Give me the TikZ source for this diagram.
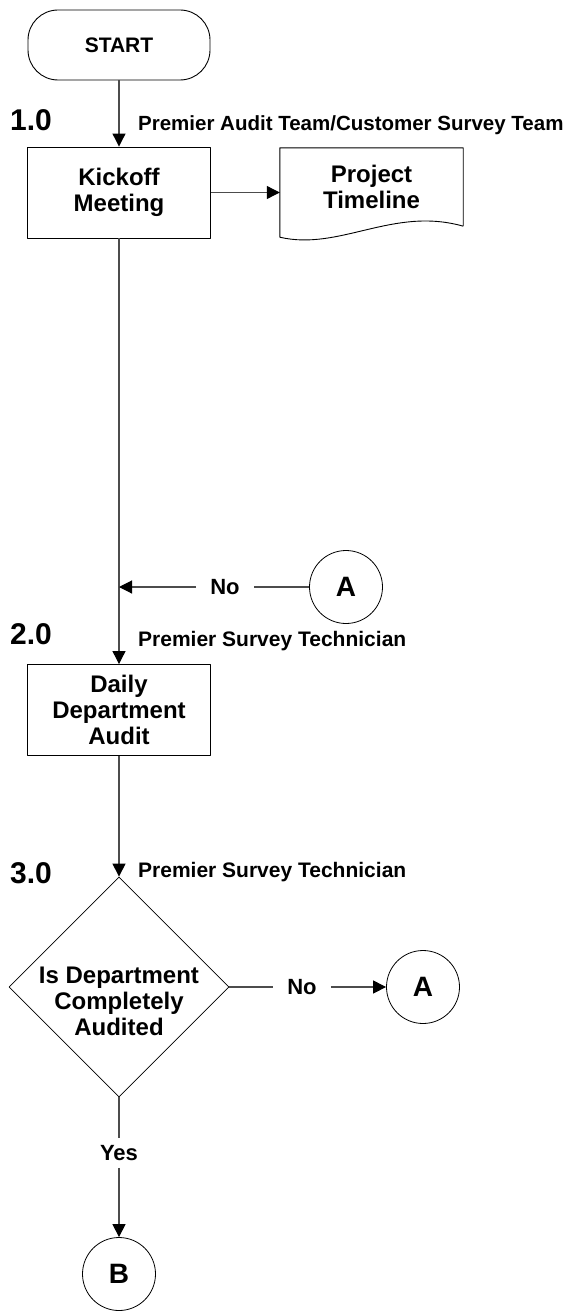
\documentclass[tikz,border=0pt]{standalone}
\usepackage{fontspec}
\setmainfont{Liberation Sans}
\usetikzlibrary{shapes.geometric,arrows.meta}
\tikzset{
	termbox/.style={draw,line width=0.9pt,rounded corners=30pt,minimum width=182pt,minimum height=70pt,inner sep=0pt,font=\fontsize{21}{23}\selectfont\bfseries},
	procbox/.style={draw,line width=0.9pt,minimum width=183pt,minimum height=91pt,inner sep=0pt,align=center,font=\fontsize{24}{26}\selectfont\bfseries},
	docbox/.style={minimum width=183pt,minimum height=78pt,inner sep=0pt,align=center,font=\fontsize{24}{26}\selectfont\bfseries},
	decbox/.style={draw,diamond,line width=0.8pt,minimum width=220pt,minimum height=220pt,inner sep=0pt},
	dectext/.style={align=center,font=\fontsize{24}{26}\selectfont\bfseries},
	linkpt/.style={draw,circle,line width=0.8pt,minimum size=73pt,inner sep=0pt,font=\fontsize{28}{28}\selectfont\bfseries},
	stepno/.style={anchor=west,inner sep=0pt,font=\fontsize{30}{30}\selectfont\bfseries},
	who/.style={anchor=west,inner sep=0pt,font=\fontsize{21}{21}\selectfont\bfseries},
	answer/.style={inner xsep=14pt,inner ysep=7pt,font=\fontsize{22}{22}\selectfont\bfseries},
	flow/.style={draw=black!70,line width=1.1pt}
}
\begin{document}
\begin{tikzpicture}[x=1pt,y=1pt,line join=round,>={Triangle[length=13pt,width=13pt,color=black]}]
	\useasboundingbox (0,0) rectangle (572,-1311);
	\def\mx{119}
	% step 1.0
	\node[termbox] (start) at (\mx,-45) {START};
	\node[stepno] (s1) at (10,-120) {1.0};
	\node[who,font=\fontsize{20.5}{21}\selectfont\bfseries] (w1) at (138,-125) {Premier Audit Team/Customer Survey Team};
	\node[procbox] (kickoff) at (\mx,-192.5) {Kickoff\\Meeting};
	\node[docbox] (timeline) at (371.5,-187) {Project\\Timeline};
	\draw[line width=0.9pt] (timeline.south east) -- (timeline.north east) -- (timeline.north west) -- ([yshift=-11pt]timeline.south west)
		.. controls +(60,-14) and +(-70,20) .. (timeline.south east);
	% step 2.0
	\node[linkpt] (a1) at (346,-587) {A};
	\node[answer] (no1) at (225,-587) {No};
	\node[stepno] (s2) at (10,-634) {2.0};
	\node[who] (w2) at (138,-641) {Premier Survey Technician};
	\node[procbox] (daily) at (\mx,-710) {Daily\\Department\\Audit};
	% step 3.0
	\node[stepno] (s3) at (10,-873) {3.0};
	\node[who] (w3) at (138,-872) {Premier Survey Technician};
	\node[decbox] (dec) at (\mx,-987) {};
	\node[dectext] (dect) at (\mx,-1001) {Is Department\\Completely\\Audited};
	\node[answer] (no2) at (302,-987) {No};
	\node[linkpt] (a2) at (423,-987) {A};
	\node[answer] (yes) at (\mx,-1153) {Yes};
	\node[linkpt] (b) at (\mx,-1274) {B};
	% connectors
	\draw[flow,->] (start) -- (kickoff);
	\draw[flow,->] (kickoff.east) -- (kickoff.east -| timeline.west);
	\draw[flow,->] (kickoff) -- (daily);
	\draw[flow] (a1) -- (no1);
	\draw[flow,->] (no1) -- (no1 -| daily.north);
	\draw[flow,->] (daily) -- (dec);
	\draw[flow] (dec) -- (no2);
	\draw[flow,->] (no2) -- (a2);
	\draw[flow] (dec) -- (yes);
	\draw[flow,->] (yes) -- (b);
\end{tikzpicture}
\end{document}
